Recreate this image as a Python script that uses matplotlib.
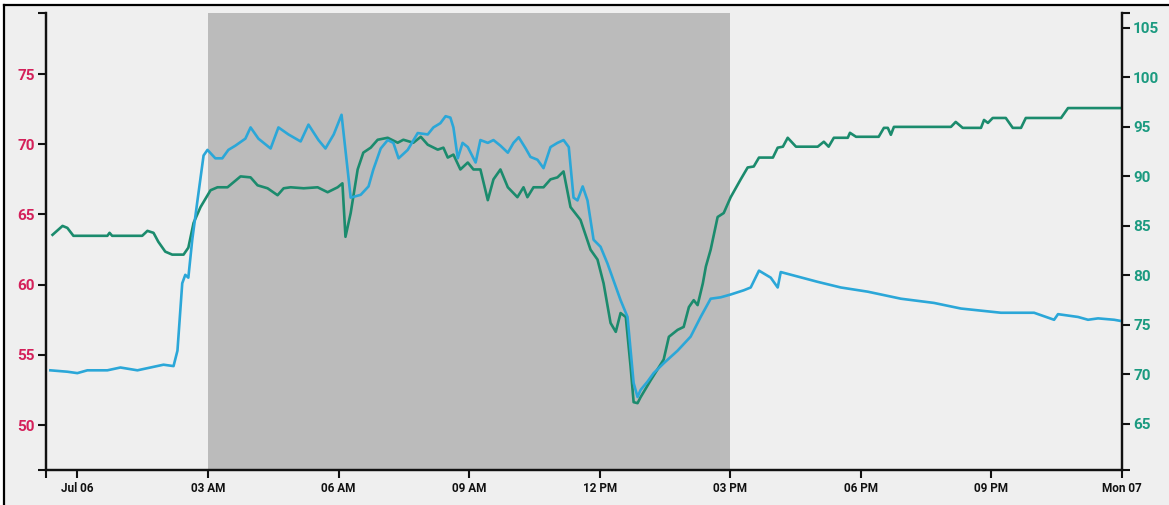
"""
Two-axis time series for Jul 06: left-axis (blue) and right-axis (green) readings,
with the 03 AM - 03 PM period shaded.
"""

import matplotlib
matplotlib.use("Agg")
import matplotlib.pyplot as plt
from matplotlib.lines import Line2D
import pandas as pd

# hours after Jul 06 00:00
blue_hours = [-0.62, -0.23, 0.00, 0.23, 0.69, 0.99, 1.38, 1.68, 1.98, 2.21, 2.30, 2.41,
              2.48, 2.55, 2.64, 2.76, 2.90, 2.99, 3.17, 3.33, 3.47, 3.63, 3.86, 3.98,
              4.16, 4.44, 4.62, 4.85, 5.13, 5.31, 5.54, 5.70, 5.89, 6.07, 6.28, 6.51,
              6.69, 6.80, 6.97, 7.13, 7.26, 7.38, 7.59, 7.82, 8.05, 8.18, 8.34, 8.46,
              8.57, 8.64, 8.74, 8.85, 8.97, 9.15, 9.26, 9.43, 9.56, 9.72, 9.89, 10.02,
              10.14, 10.30, 10.41, 10.57, 10.71, 10.87, 11.03, 11.17, 11.29, 11.40, 11.49,
              11.61, 11.72, 11.86, 12.02, 12.18, 12.48, 12.64, 12.78, 12.87, 12.94, 13.10,
              13.24, 13.47, 13.79, 14.09, 14.32, 14.55, 14.78, 15.01, 15.31, 15.47, 15.66,
              15.93, 16.09, 16.16, 17.01, 17.54, 18.16, 18.92, 19.68, 20.30, 21.22, 21.98,
              22.44, 22.53, 22.99, 23.22, 23.45, 23.82, 24.00]
blue_values = [53.9, 53.8, 53.7, 53.9, 53.9, 54.1, 53.9, 54.1, 54.3, 54.2, 55.3, 60.1,
               60.7, 60.5, 63.2, 66.0, 69.2, 69.6, 69.0, 69.0, 69.6, 69.9, 70.4, 71.2,
               70.4, 69.7, 71.2, 70.7, 70.2, 71.4, 70.3, 69.7, 70.7, 72.1, 66.2, 66.4,
               67.0, 68.2, 69.7, 70.3, 70.1, 69.0, 69.6, 70.8, 70.7, 71.2, 71.5, 72.0,
               71.9, 71.2, 69.0, 70.1, 69.8, 68.7, 70.3, 70.1, 70.3, 69.9, 69.4, 70.1,
               70.5, 69.7, 69.1, 68.9, 68.3, 69.8, 70.1, 70.3, 69.8, 66.2, 66.0,
               67.0, 66.0, 63.2, 62.7, 61.5, 58.9, 57.7, 53.0, 52.0, 52.5, 53.1,
               53.7, 54.4, 55.3, 56.3, 57.7, 59.0, 59.1, 59.3, 59.6, 59.8, 61.0,
               60.5, 59.8, 60.9, 60.2, 59.8, 59.5, 59.0, 58.7, 58.3, 58.0, 58.0,
               57.5, 57.9, 57.7, 57.5, 57.6, 57.5, 57.4]

green_hours = [-0.57, -0.34, -0.23, -0.09, 0.69, 0.74, 0.80, 1.49, 1.61, 1.75, 1.86, 2.02,
               2.18, 2.44, 2.55, 2.67, 2.83, 3.06, 3.22, 3.45, 3.75, 3.98, 4.14, 4.37,
               4.60, 4.74, 4.90, 5.20, 5.52, 5.75, 5.98, 6.09, 6.16, 6.28, 6.44, 6.57,
               6.74, 6.90, 7.13, 7.36, 7.49, 7.72, 7.89, 8.05, 8.28, 8.41, 8.51, 8.64,
               8.80, 8.97, 9.10, 9.26, 9.43, 9.56, 9.72, 9.89, 10.11, 10.25, 10.34, 10.48,
               10.71, 10.87, 11.03, 11.17, 11.33, 11.56, 11.79, 11.95, 12.09, 12.25, 12.37,
               12.48, 12.60, 12.71, 12.78, 12.87, 12.94, 13.17, 13.47, 13.59, 13.79, 13.93,
               14.05, 14.16, 14.25, 14.37, 14.44, 14.55, 14.71, 14.85, 15.01, 15.24, 15.40,
               15.54, 15.66, 15.98, 16.09, 16.21, 16.32, 16.51, 17.01, 17.15, 17.26, 17.38,
               17.70, 17.75, 17.89, 18.41, 18.53, 18.62, 18.69, 18.76, 20.07, 20.18, 20.34,
               20.76, 20.83, 20.92, 21.03, 21.33, 21.49, 21.68, 21.79, 22.60, 22.76, 24.00]
green_values = [84.1, 85.0, 84.8, 84.0, 84.0, 84.3, 84.0, 84.0, 84.5, 84.3, 83.4, 82.4,
                82.1, 82.1, 82.8, 85.3, 86.9, 88.6, 88.9, 88.9, 90.0, 89.9, 89.1, 88.8,
                88.1, 88.8, 88.9, 88.8, 88.9, 88.4, 88.9, 89.3, 83.9, 86.3, 90.7, 92.4,
                92.9, 93.7, 93.9, 93.4, 93.7, 93.4, 94.0, 93.2, 92.7, 92.9, 91.9, 92.2,
                90.7, 91.4, 90.7, 90.7, 87.6, 89.7, 90.7, 88.9, 87.9, 88.9, 87.9, 88.9,
                88.9, 89.7, 89.9, 90.5, 86.9, 85.6, 82.6, 81.6, 79.2, 75.2, 74.3,
                76.2, 75.8, 70.8, 67.2, 67.1, 67.7, 69.4, 71.5, 73.8, 74.5, 74.8,
                76.8, 77.5, 77.0, 79.2, 80.9, 82.6, 85.9, 86.3, 87.9, 89.7, 90.9,
                91.0, 91.9, 91.9, 92.9, 93.0, 93.9, 93.0, 93.0, 93.5, 93.0, 93.9,
                93.9, 94.4, 94.0, 94.0, 94.9, 94.9, 94.2, 95.0, 95.0, 95.5, 94.9,
                94.9, 95.7, 95.4, 95.9, 95.9, 94.9, 94.9, 95.9, 95.9, 96.9, 96.9]

left_ticks = [50, 55, 60, 65, 70, 75]
right_ticks = [65, 70, 75, 80, 85, 90, 95, 100, 105]
x_tick_labels = ["Jul 06", "03 AM", "06 AM", "09 AM", "12 PM", "03 PM", "06 PM", "09 PM", "Mon 07"]
shade_hours = (3, 15)

BG = "#efefef"
BLUE = "#2ba7d8"
GREEN = "#1b8b6d"
PINK = "#d4205a"
TEAL = "#1b9a80"
FONT = "Roboto"

base = pd.Timestamp("2015-07-06")
blue_t = base + pd.to_timedelta(blue_hours, unit="h")
green_t = base + pd.to_timedelta(green_hours, unit="h")
x_ticks = pd.date_range(base, periods=len(x_tick_labels), freq="3h")
x_lim = (base - pd.Timedelta(hours=0.72), base + pd.Timedelta(hours=24))

fig = plt.figure(figsize=(11.69, 5.05), dpi=100, facecolor="white")
fig.patches.append(plt.Rectangle((4 / 1169, 0), 1, 1 - 5 / 505, transform=fig.transFigure,
                                 facecolor=BG, edgecolor="none", zorder=-10))
fig.lines.append(Line2D([4 / 1169, 4 / 1169], [0, 1 - 5 / 505], transform=fig.transFigure,
                        color="black", lw=1.6))
fig.lines.append(Line2D([4 / 1169, 1], [1 - 5 / 505, 1 - 5 / 505], transform=fig.transFigure,
                        color="black", lw=1.6))

ax = fig.add_axes([46 / 1169, 1 - 470 / 505, (1122 - 46) / 1169, (470 - 13) / 505])
ax2 = ax.twinx()

# ax (blue) is drawn above ax2 (green + shading)
ax.set_zorder(ax2.get_zorder() + 1)
ax.patch.set_visible(False)
ax2.patch.set_facecolor(BG)

ax2.axvspan(base + pd.Timedelta(hours=shade_hours[0]), base + pd.Timedelta(hours=shade_hours[1]),
            color="#bbbbbb", lw=0, zorder=0)

ax.plot(blue_t, blue_values, color=BLUE, lw=1.9, solid_joinstyle="round")
ax2.plot(green_t, green_values, color=GREEN, lw=1.9, solid_joinstyle="round", zorder=2)

ax.set_xlim(x_lim)
ax.set_ylim(46.8, 79.35)
ax2.set_ylim(60.35, 106.5)

ax.set_xticks(x_ticks)
ax.set_xticklabels(x_tick_labels)
ax.set_yticks(left_ticks)
ax2.set_yticks(right_ticks)

# end ticks at the domain limits, like the outer ticks of the original
ax.set_yticks(list(ax.get_ylim()), minor=True)
ax2.set_yticks(list(ax2.get_ylim()), minor=True)
ax.set_xticks(list(x_lim), minor=True)

for a in (ax, ax2):
    a.spines["top"].set_visible(False)
    for s in ("left", "right", "bottom"):
        a.spines[s].set_linewidth(1.6)
        a.spines[s].set_color("#111111")

ax.tick_params(axis="x", which="both", direction="out", length=6, width=1.5, pad=3,
               labelsize=8.5, colors="#111111")
ax.tick_params(axis="y", which="both", direction="out", length=6, width=1.5, pad=2,
               labelsize=11, labelcolor=PINK, color="#111111")
ax2.tick_params(axis="y", which="both", direction="out", length=6, width=1.5, pad=2,
                labelsize=11, labelcolor=TEAL, color="#111111")

for lab in ax.get_xticklabels() + ax.get_yticklabels() + ax2.get_yticklabels():
    lab.set_fontfamily(FONT)
    lab.set_fontweight("bold")

fig.savefig("out.png", dpi=100, facecolor="white")
